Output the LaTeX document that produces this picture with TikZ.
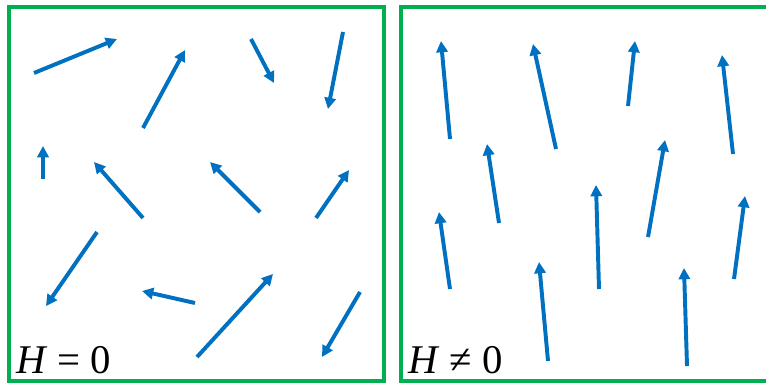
\documentclass[tikz,border=0pt]{standalone}
\usepackage{fontspec}
\setmainfont{Liberation Serif}
\usepackage{tikz}
\usetikzlibrary{arrows.meta}
\definecolor{framegreen}{HTML}{00B050}
\definecolor{spinblue}{HTML}{0070C0}
\tikzset{
  panel/.style={
    draw=framegreen,
    line width=2.2pt
  },
  spin/.style={
    -{Triangle[length=8pt,width=8pt]},
    draw=spinblue,
    fill=spinblue,
    line width=2.8pt
  },
  fieldlabel/.style={
    anchor=base west,
    inner sep=0pt,
    font=\fontsize{29}{33}\selectfont
  }
}

\begin{document}
\begin{tikzpicture}[x=0.025cm, y=-0.025cm]
\useasboundingbox (0,0) rectangle (766,383);
\draw[panel] (9,7) rectangle (384,381);
\draw[panel] (401,7) rectangle (776,381);
% no field: spins point every which way
\foreach \xa/\ya/\xb/\yb in {34/73/117/39, 143/128/185/50, 251/39/274/83, 343/32/328/109,
    43/179/43/146, 143/218/94/162, 260/212/210/162, 316/218/349/170,
    97/232/46/306, 195/303/142/291, 197/357/273/274, 360/292/322/357}
  \draw[spin] (\xa,\ya) -- (\xb,\yb);
% field on: spins line up roughly upward
\foreach \xa/\ya/\xb/\yb in {450/139/441/41, 556/149/533/44, 628/106/635/41, 733/154/722/55,
    499/223/487/144, 599/289/596/185, 648/237/665/140, 734/279/745/196,
    450/289/439/212, 548/361/539/262, 687/366/684/268}
  \draw[spin] (\xa,\ya) -- (\xb,\yb);
\node[fieldlabel] (nofield) at (16,373) {\textit{H} = 0};
\node[fieldlabel] (withfield) at (408,373) {\textit{H} ≠ 0};
\end{tikzpicture}
\end{document}
